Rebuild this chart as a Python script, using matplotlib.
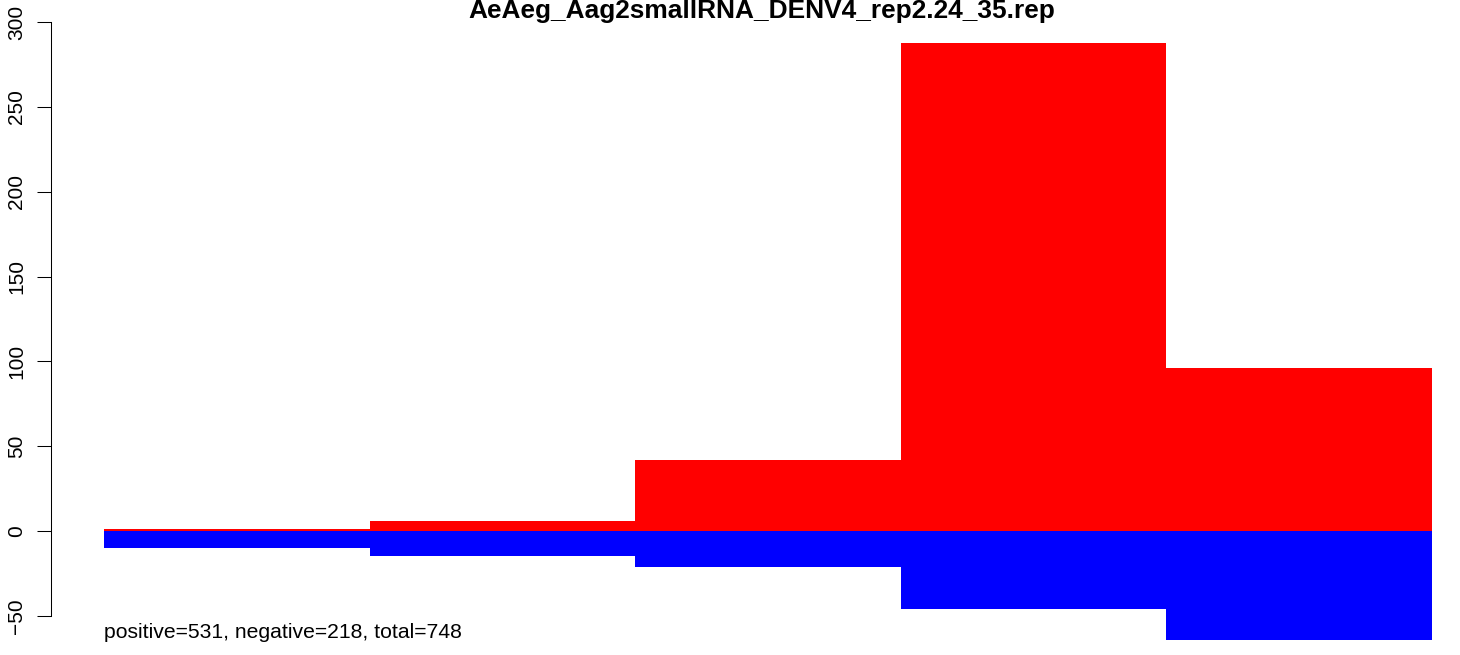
import matplotlib
matplotlib.use("Agg")
import matplotlib.pyplot as plt

# Data
TITLE = "AeAeg_Aag2smallRNA_DENV4_rep2.24_35.rep"
positive_counts = [1, 6, 42, 288, 96]
negative_counts = [-10, -15, -21, -46, -64]
y_ticks = [-50, 0, 50, 100, 150, 200, 250, 300]
summary = "positive=531, negative=218, total=748"

W, H = 1460, 655
plt.rcParams['font.family'] = ['Liberation Sans', 'DejaVu Sans']

fig = plt.figure(figsize=(W / 100, H / 100), dpi=100)

# plot region in pixels: x from -0.2 to 5.2 (R style 4% padding)
x_lo, x_hi = 50.9, 1485.0
y_lo_v, y_hi_v = -70, 305
px_per_unit = 1.696
zero_px = 531.0
top_px = zero_px - y_hi_v * px_per_unit
bot_px = zero_px - y_lo_v * px_per_unit
ax = fig.add_axes([x_lo / W, 1 - bot_px / H, (x_hi - x_lo) / W, (bot_px - top_px) / H])

xs = list(range(len(positive_counts)))
ax.bar(xs, positive_counts, width=1.0, align='edge', color='#ff0000', linewidth=0)
ax.bar(xs, negative_counts, width=1.0, align='edge', color='#0000ff', linewidth=0)

ax.set_xlim(-0.2, 5.2)
ax.set_ylim(y_lo_v, y_hi_v)

for side in ['top', 'right', 'bottom']:
    ax.spines[side].set_visible(False)
ax.spines['left'].set_bounds(y_ticks[0], y_ticks[-1])
ax.spines['left'].set_linewidth(0.75)
ax.set_xticks([])
ax.set_yticks(y_ticks)
ax.set_yticklabels([str(t).replace('-', '\u2212') for t in y_ticks],
                   rotation=90, va='center', fontsize=15)
ax.tick_params(axis='y', length=10, width=0.75, pad=8)

fig.text(762 / W, 1 - 11 / H, TITLE, ha='center', va='center',
         fontsize=18.9, fontweight='bold')
fig.text(104 / W, 1 - 633 / H, summary, ha='left', va='center', fontsize=15.2)

fig.savefig("out.png", dpi=100)
